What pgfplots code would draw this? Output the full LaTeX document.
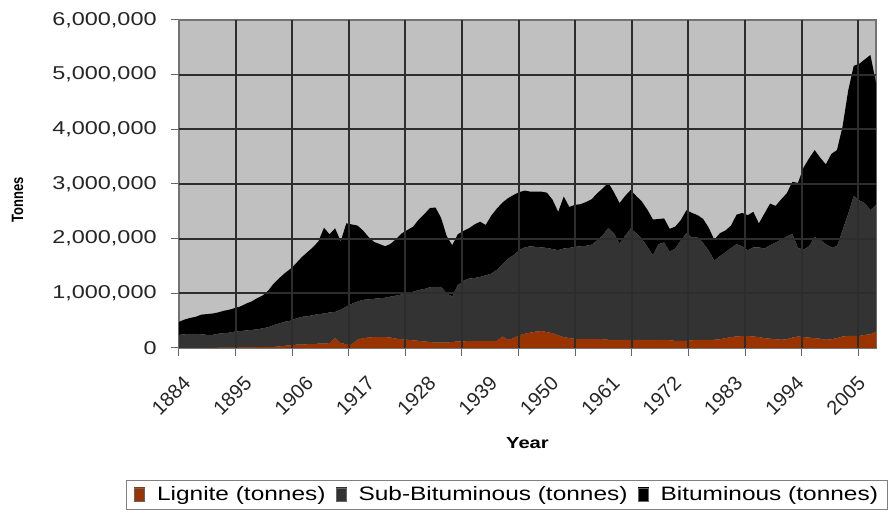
\documentclass[border=0pt]{standalone}
\usepackage{pgfplots}
\pgfplotsset{compat=1.18}
\usepackage{pgfplotstable}
\usepackage{fontspec}
\setmainfont{Liberation Sans}[FakeStretch=1.26]
\newfontfamily\plainsans{Liberation Sans}
\definecolor{lig}{RGB}{153,51,0}
\definecolor{subb}{RGB}{51,51,51}
\definecolor{bgc}{RGB}{192,192,192}
\definecolor{gridc}{RGB}{45,45,45}
\pgfplotstableread{
year lig sub bit
1884 0 240000 240000
1885 0 250000 270000
1886 0 260000 290000
1887 0 260000 310000
1888 0 250000 360000
1889 0 240000 380000
1890 0 240000 390000
1891 5000 255000 390000
1892 5000 265000 410000
1893 5000 275000 420000
1894 5000 295000 430000
1895 10000 300000 450000
1896 10000 310000 490000
1897 10000 320000 520000
1898 15000 325000 570000
1899 20000 340000 600000
1900 20000 360000 670000
1901 20000 400000 760000
1902 30000 420000 830000
1903 40000 440000 890000
1904 50000 450000 950000
1905 60000 480000 1010000
1906 60000 510000 1090000
1907 70000 510000 1170000
1908 70000 530000 1240000
1909 80000 540000 1330000
1910 80000 550000 1570000
1911 90000 560000 1430000
1912 180000 480000 1530000
1913 90000 610000 1250000
1914 70000 690000 1520000
1915 70000 740000 1450000
1916 150000 700000 1390000
1917 180000 700000 1270000
1918 190000 700000 1140000
1919 200000 700000 1040000
1920 200000 710000 990000
1921 200000 720000 940000
1922 190000 750000 970000
1923 170000 790000 1040000
1924 160000 820000 1120000
1925 150000 850000 1160000
1926 140000 890000 1190000
1927 130000 930000 1290000
1928 120000 960000 1370000
1929 110000 1000000 1450000
1930 100000 1020000 1450000
1931 100000 1020000 1260000
1932 100000 900000 1050000
1933 110000 830000 940000
1934 120000 1030000 930000
1935 120000 1110000 910000
1936 130000 1140000 920000
1937 130000 1150000 980000
1938 130000 1170000 1010000
1939 130000 1200000 920000
1940 130000 1230000 1060000
1941 130000 1300000 1120000
1942 210000 1320000 1130000
1943 150000 1480000 1110000
1944 180000 1520000 1100000
1945 230000 1560000 1060000
1946 260000 1580000 1040000
1947 280000 1580000 1000000
1948 300000 1550000 1010000
1949 310000 1530000 1020000
1950 290000 1540000 1010000
1951 270000 1540000 900000
1952 230000 1560000 700000
1953 200000 1620000 950000
1954 180000 1650000 750000
1955 170000 1680000 770000
1956 160000 1700000 770000
1957 160000 1710000 800000
1958 160000 1730000 830000
1959 160000 1810000 860000
1960 160000 1900000 860000
1961 150000 2050000 820000
1962 150000 1950000 750000
1963 150000 1760000 740000
1964 150000 1900000 730000
1965 150000 2040000 700000
1966 150000 1950000 680000
1967 150000 1850000 680000
1968 150000 1700000 680000
1969 150000 1550000 650000
1970 150000 1750000 460000
1971 150000 1780000 440000
1972 140000 1620000 420000
1973 130000 1690000 400000
1974 130000 1840000 370000
1975 130000 1970000 420000
1976 140000 1880000 450000
1977 150000 1870000 410000
1978 150000 1770000 440000
1979 150000 1630000 420000
1980 150000 1450000 380000
1981 160000 1520000 420000
1982 180000 1570000 400000
1983 200000 1630000 410000
1984 210000 1690000 540000
1985 220000 1640000 610000
1986 220000 1570000 640000
1987 210000 1630000 650000
1988 200000 1640000 440000
1989 180000 1640000 640000
1990 170000 1710000 760000
1991 160000 1770000 670000
1992 150000 1830000 740000
1993 160000 1880000 790000
1994 190000 1900000 950000
1995 210000 1620000 1190000
1996 200000 1600000 1500000
1997 190000 1670000 1610000
1998 180000 1850000 1590000
1999 170000 1810000 1500000
2000 150000 1750000 1460000
2001 160000 1680000 1710000
2002 180000 1680000 1760000
2003 210000 1940000 1900000
2004 220000 2230000 2250000
2005 220000 2560000 2380000
2006 220000 2480000 2500000
2007 240000 2410000 2630000
2008 250000 2270000 2840000
2009 300000 2320000 2230000
}\coaldata
\begin{document}
\begin{tikzpicture}
\fill[white] (-89.5pt,-84.5pt) rectangle (355pt,174pt);
\useasboundingbox (-89.5pt,-84.5pt) rectangle (355pt,174pt);
\fill[bgc] (0pt,0pt) rectangle (348.5pt,164pt);
\begin{axis}[
  at={(0,0)}, anchor=south west,
  width=348.5pt, height=164pt, scale only axis,
  xmin=1884, xmax=2009, ymin=0, ymax=6000000,
  stack plots=y,
  axis line style={black!55, line width=0.6pt},
  tick pos=left,
  tick align=outside, major tick length=4pt, minor tick length=4pt,
  tick style={black!60, line width=0.5pt},
  xtick={1884,1895,1906,1917,1928,1939,1950,1961,1972,1983,1994,2005},
  xticklabels={1884,1895,1906,1917,1928,1939,1950,1961,1972,1983,1994,2005},
  major x tick style={draw=none},
  minor xtick={1884,1894.15,1904.30,1914.45,1924.60,1934.75,1944.91,1955.06,1965.21,1975.36,1985.51,1995.66,2005.81},
  ytick={0,1000000,2000000,3000000,4000000,5000000,6000000},
  scaled y ticks=false,
  /pgf/number format/assume math mode=true,
  yticklabel style={/pgf/number format/fixed, /pgf/number format/1000 sep={,}},
  tick label style={font=\fontsize{9.3}{11}\selectfont, text=black!85},
  y tick label style={anchor=east, inner sep=0pt, xshift=-7pt},
  x tick label style={font=\plainsans\fontsize{10}{12}\selectfont, rotate=45, anchor=north east, inner sep=0pt, xshift=-5.5pt, yshift=-7.5pt},
  xlabel={\bfseries Year},
  xlabel style={font=\fontsize{8}{10}\selectfont, at={(axis description cs:0.5,0)}, anchor=center, yshift=-47.5pt},
  ylabel={\scalebox{1}[1.26]{\plainsans\bfseries\fontsize{6.5}{8}\selectfont Tonnes}},
  ylabel style={at={(axis description cs:-0.2317,0.453)}, anchor=center},
  legend columns=3,
  legend style={at={(axis description cs:0.4706,-0.448)}, anchor=center,
    draw=black!50, line width=0.5pt, fill=white,
    font=\fontsize{9.7}{11.6}\selectfont,
    inner xsep=4pt, inner ysep=2pt,
    nodes={inner sep=1pt},
    /tikz/every odd column/.append style={column sep=5pt},
    /tikz/every even column/.append style={column sep=4pt}},
]
% grid lines (drawn first so the areas lie over them)
\draw[gridc, line width=1pt] (axis cs:1884,1000000) -- (axis cs:2009,1000000);
\draw[gridc, line width=1pt] (axis cs:1884,2000000) -- (axis cs:2009,2000000);
\draw[gridc, line width=1pt] (axis cs:1884,3000000) -- (axis cs:2009,3000000);
\draw[gridc, line width=1pt] (axis cs:1884,4000000) -- (axis cs:2009,4000000);
\draw[gridc, line width=1pt] (axis cs:1884,5000000) -- (axis cs:2009,5000000);
\draw[gridc, line width=1pt] (axis cs:1894.15,0) -- (axis cs:1894.15,6000000);
\draw[gridc, line width=1pt] (axis cs:1904.30,0) -- (axis cs:1904.30,6000000);
\draw[gridc, line width=1pt] (axis cs:1914.45,0) -- (axis cs:1914.45,6000000);
\draw[gridc, line width=1pt] (axis cs:1924.60,0) -- (axis cs:1924.60,6000000);
\draw[gridc, line width=1pt] (axis cs:1934.75,0) -- (axis cs:1934.75,6000000);
\draw[gridc, line width=1pt] (axis cs:1944.91,0) -- (axis cs:1944.91,6000000);
\draw[gridc, line width=1pt] (axis cs:1955.06,0) -- (axis cs:1955.06,6000000);
\draw[gridc, line width=1pt] (axis cs:1965.21,0) -- (axis cs:1965.21,6000000);
\draw[gridc, line width=1pt] (axis cs:1975.36,0) -- (axis cs:1975.36,6000000);
\draw[gridc, line width=1pt] (axis cs:1985.51,0) -- (axis cs:1985.51,6000000);
\draw[gridc, line width=1pt] (axis cs:1995.66,0) -- (axis cs:1995.66,6000000);
\draw[gridc, line width=1pt] (axis cs:2005.81,0) -- (axis cs:2005.81,6000000);
\addlegendimage{legend image code/.code={\fill[lig] (0pt,-3pt) rectangle (5pt,3.5pt);
    \draw[black!60, line width=0.3pt] (0pt,-3pt) rectangle (5pt,3.5pt);}}
\addlegendimage{legend image code/.code={\fill[subb] (0pt,-3pt) rectangle (5pt,3.5pt);
    \draw[black!60, line width=0.3pt] (0pt,-3pt) rectangle (5pt,3.5pt);}}
\addlegendimage{legend image code/.code={\fill[black] (0pt,-3pt) rectangle (5pt,3.5pt);
    \draw[black!60, line width=0.3pt] (0pt,-3pt) rectangle (5pt,3.5pt);}}
\addplot[fill=lig, draw=none] table[x=year, y=lig] {\coaldata} \closedcycle;
\addplot[fill=subb, draw=none] table[x=year, y=sub] {\coaldata} \closedcycle;
\addplot[fill=black, draw=none] table[x=year, y=bit] {\coaldata} \closedcycle;
\legend{Lignite (tonnes), Sub-Bituminous (tonnes), Bituminous (tonnes)}
\end{axis}
\end{tikzpicture}
\end{document}
